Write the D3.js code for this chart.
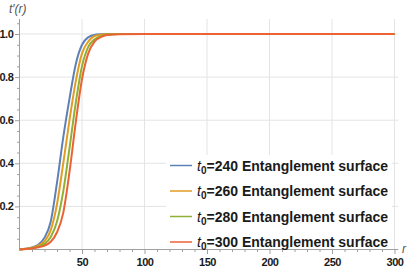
<!DOCTYPE html>
<html>
<head>
<meta charset="utf-8">
<script src="https://cdn.jsdelivr.net/npm/d3@7"></script>
<style>
  body { margin: 0; background: #fff; }
  svg { display: block; font-family: "Liberation Sans", Arial, sans-serif; }
</style>
</head>
<body>
<div id="chart"></div>
<script>
var figw = 415
var figh = 269

// r values sampled along each curve
var rs = [0, 5, 10, 15, 20, 25, 30, 35, 40, 45, 50, 55, 60, 65, 70, 80, 100, 150, 200, 250, 300]

// t'(r), one list per t0
var t240 = [0, 0.003, 0.01, 0.022, 0.055, 0.13, 0.31, 0.52, 0.7, 0.86, 0.95, 0.985, 0.996, 0.999, 1, 1, 1, 1, 1, 1, 1]
var t260 = [0, 0.003, 0.008, 0.018, 0.038, 0.09, 0.21, 0.4, 0.6, 0.78, 0.91, 0.965, 0.99, 0.997, 0.999, 1, 1, 1, 1, 1, 1]
var t280 = [0, 0.002, 0.006, 0.013, 0.026, 0.058, 0.13, 0.27, 0.47, 0.68, 0.85, 0.94, 0.975, 0.99, 0.997, 1, 1, 1, 1, 1, 1]
var t300 = [0, 0.002, 0.005, 0.01, 0.018, 0.036, 0.08, 0.17, 0.36, 0.59, 0.79, 0.91, 0.965, 0.985, 0.995, 0.999, 1, 1, 1, 1, 1]

var seriesNames = ["240", "260", "280", "300"]
var seriesVals = [t240, t260, t280, t300]
var colors = ["#5e81b5", "#e19c24", "#8fb032", "#eb6235"]

var xMajor = [50, 100, 150, 200, 250, 300]
var yMajor = [0.2, 0.4, 0.6, 0.8, 1.0]

var svg = d3.select("#chart")
  .append("svg")
    .attr("width", figw)
    .attr("height", figh)

var x = d3.scaleLinear().domain([0, 300]).range([19.5, 394.5])
var y = d3.scaleLinear().domain([0, 1]).range([249.5, 34])

// grid
svg.append("g").selectAll("line")
  .data(xMajor).enter().append("line")
    .attr("x1", d => x(d)).attr("x2", d => x(d))
    .attr("y1", y(1.07)).attr("y2", y(0))
    .attr("stroke", "#e4e4e4").attr("stroke-width", 1)
svg.append("g").selectAll("line")
  .data(yMajor).enter().append("line")
    .attr("x1", x(0)).attr("x2", x(303))
    .attr("y1", d => y(d)).attr("y2", d => y(d))
    .attr("stroke", "#e4e4e4").attr("stroke-width", 1)

// minor ticks
var xMinor = d3.range(10, 301, 10).filter(d => d % 50 != 0)
var yMinor = d3.range(1, 22).map(i => i * 0.05).filter(d => Math.abs(d * 5 - Math.round(d * 5)) > 1e-6)

var gxm = svg.append("g")
  .attr("transform", "translate(0," + y(0) + ")")
  .call(d3.axisBottom(x).tickValues(xMinor).tickSize(2.5).tickFormat(""))
var gym = svg.append("g")
  .attr("transform", "translate(" + x(0) + ",0)")
  .call(d3.axisLeft(y).tickValues(yMinor).tickSize(2.5).tickFormat(""))

var gx = svg.append("g")
  .attr("transform", "translate(0," + y(0) + ")")
  .call(d3.axisBottom(x).tickValues(xMajor).tickSize(4.5).tickPadding(4).tickFormat(d3.format("d")))
var gy = svg.append("g")
  .attr("transform", "translate(" + x(0) + ",0)")
  .call(d3.axisLeft(y).tickValues(yMajor).tickSize(4.5).tickPadding(1.5).tickFormat(d3.format(".1f")))

gx.select(".domain").attr("d", "M" + x(0) + ",0H" + x(303))
gy.select(".domain").attr("d", "M0," + y(0) + "V" + y(1.07))
gxm.select(".domain").remove()
gym.select(".domain").remove()

svg.selectAll(".tick line").attr("stroke", "#a0a0a0")
svg.selectAll(".domain").attr("stroke", "#a0a0a0")
svg.selectAll(".tick text")
  .attr("font-size", 11).attr("font-weight", "bold").attr("fill", "#1a1a1a")
  .attr("font-family", "Liberation Sans, Arial, sans-serif")
  .attr("letter-spacing", -0.4)

// axis labels
svg.append("text")
  .attr("x", 9).attr("y", 13)
  .attr("font-size", 12).attr("font-style", "italic").attr("fill", "#555")
  .text("t\u2032(r)")
svg.append("text")
  .attr("x", 402).attr("y", 253)
  .attr("font-size", 12).attr("font-style", "italic").attr("fill", "#555")
  .text("r")

// curves
var line = d3.line()
  .x((d, i) => x(rs[i]))
  .y(d => y(d))
  .curve(d3.curveMonotoneX)

seriesVals.forEach(function(vals, k) {
  svg.append("path")
    .datum(vals)
    .attr("d", line)
    .attr("fill", "none")
    .attr("stroke", colors[k])
    .attr("stroke-width", 2)
})

// legend
svg.append("rect")
  .attr("x", 166).attr("y", 155).attr("width", 226).attr("height", 93)
  .attr("fill", "#fff")

var leg = svg.append("g")
seriesNames.forEach(function(name, k) {
  var cy = 165.5 + k * 25.5
  leg.append("line")
    .attr("x1", 170).attr("x2", 192)
    .attr("y1", cy).attr("y2", cy)
    .attr("stroke", colors[k]).attr("stroke-width", 1.5)
  var t = leg.append("text")
    .attr("x", 197).attr("y", cy + 5)
    .attr("font-size", 14).attr("font-weight", "bold").attr("fill", "#1a1a1a")
  t.append("tspan").attr("font-style", "italic").attr("font-weight", "normal").text("t")
  t.append("tspan").attr("font-size", 10).attr("dy", 3).text("0")
  t.append("tspan").attr("dy", -3).text("=" + name + " Entanglement surface")
})
</script>
</body>
</html>
